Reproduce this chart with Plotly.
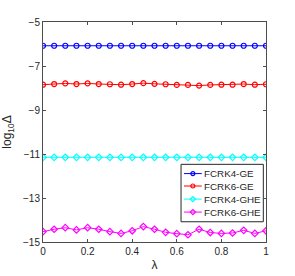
import plotly.graph_objects as go

lam = [round(i * 0.05, 2) for i in range(21)]
fcrk4_ge = [-6.08] * 21
fcrk6_ge = [-7.85, -7.82, -7.79, -7.82, -7.79, -7.82, -7.83, -7.85, -7.82, -7.78,
            -7.81, -7.83, -7.86, -7.86, -7.89, -7.86, -7.85, -7.85, -7.82, -7.85, -7.83]
fcrk4_ghe = [-11.15] * 21
fcrk6_ghe = [-14.53, -14.42, -14.35, -14.45, -14.35, -14.42, -14.53, -14.61, -14.49, -14.30,
             -14.42, -14.56, -14.62, -14.67, -14.42, -14.57, -14.61, -14.59, -14.47, -14.61, -14.49]

names = ["FCRK4-GE", "FCRK6-GE", "FCRK4-GHE", "FCRK6-GHE"]
values = [fcrk4_ge, fcrk6_ge, fcrk4_ghe, fcrk6_ghe]
colors = ["#0000ff", "#ff0000", "#00ffff", "#ff00ff"]
symbols = ["circle-open", "circle-open", "diamond-open", "diamond-open"]

FONT = "Liberation Sans, Arial"
TXT = "#262626"

fig = go.Figure()
for name, ys, col, sym in zip(names, values, colors, symbols):
    fig.add_trace(go.Scatter(
        x=lam, y=ys, name=name, mode="lines+markers", showlegend=False,
        line=dict(color=col, width=1),
        marker=dict(symbol=sym, size=5, color=col, line=dict(color=col, width=1.2)),
    ))

# manual compact legend (MATLAB style) on an overlay axis spanning the plot area
leg_rows = [0.311, 0.2545, 0.195, 0.136]
leg_line = (0.632, 0.712)
leg_mark = 0.672
leg_text = 0.718
fig.add_shape(type="rect", xref="paper", yref="paper", x0=0.619, x1=0.988, y0=0.092, y1=0.353,
              line=dict(color=TXT, width=1), fillcolor="white", layer="below")
for name, col, sym, yr in zip(names, colors, symbols, leg_rows):
    fig.add_trace(go.Scatter(
        x=[leg_line[0], leg_mark, leg_line[1]], y=[yr, yr, yr], xaxis="x2", yaxis="y2",
        mode="lines", showlegend=False, hoverinfo="skip",
        line=dict(color=col, width=1),
    ))
    fig.add_trace(go.Scatter(
        x=[leg_mark], y=[yr], xaxis="x2", yaxis="y2",
        mode="markers", showlegend=False, hoverinfo="skip",
        marker=dict(symbol=sym, size=4, color=col, line=dict(color=col, width=1.2)),
    ))
    fig.add_annotation(x=leg_text, y=yr, xref="paper", yref="paper", text=name,
                       showarrow=False, xanchor="left", yanchor="middle", borderpad=0,
                       font=dict(family=FONT, size=9.8, color=TXT))

axis_common = dict(
    showgrid=False, zeroline=False, showline=True, linecolor="#4d4d4d", linewidth=1,
    mirror="ticks", ticks="inside", ticklen=3, tickcolor="#4d4d4d", automargin=False,
    tickfont=dict(family=FONT, size=10, color=TXT),
)
fig.update_layout(
    xaxis=dict(range=[0, 1], tickvals=[0, 0.2, 0.4, 0.6, 0.8, 1],
               ticktext=["0", "0.2", "0.4", "0.6", "0.8", "1"],
               title=dict(text="λ", font=dict(family=FONT, size=12, color=TXT), standoff=4),
               **axis_common),
    yaxis=dict(range=[-15, -5], tickvals=[-15, -13, -11, -9, -7, -5],
               title=dict(text="log<sub>10</sub>Δ", font=dict(family=FONT, size=12, color=TXT), standoff=9),
               **axis_common),
    xaxis2=dict(overlaying="x", range=[0, 1], visible=False, fixedrange=True, automargin=False),
    yaxis2=dict(overlaying="y", range=[0, 1], visible=False, fixedrange=True, automargin=False),
    width=295, height=276,
    margin=dict(l=43, r=29, t=22, b=34, autoexpand=False),
    plot_bgcolor="white", paper_bgcolor="white",
    showlegend=False,
)

fig.write_html("out.html", config={"displayModeBar": False, "staticPlot": True},
               post_script="document.body.style.margin='0';document.body.style.overflow='hidden';")
